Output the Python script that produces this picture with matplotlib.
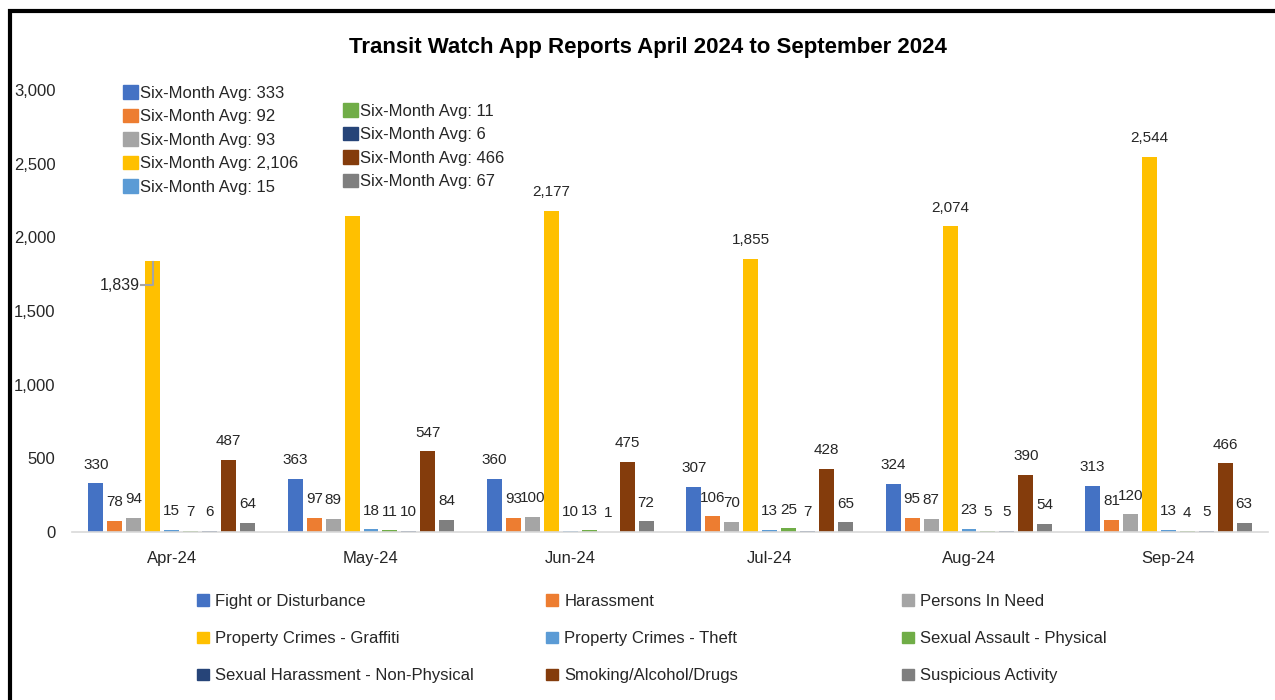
import matplotlib
matplotlib.use("Agg")
import matplotlib.pyplot as plt
from matplotlib.patches import Patch, Rectangle
import numpy as np

plt.rcParams['font.family'] = ['Liberation Sans Narrow', 'Liberation Sans', 'DejaVu Sans']

months = ["Apr-24", "May-24", "Jun-24", "Jul-24", "Aug-24", "Sep-24"]
series = ["Fight or Disturbance", "Harassment", "Persons In Need",
          "Property Crimes - Graffiti", "Property Crimes - Theft",
          "Sexual Assault - Physical", "Sexual Harassment - Non-Physical",
          "Smoking/Alcohol/Drugs", "Suspicious Activity"]
colors = ["#4472C4", "#ED7D31", "#A5A5A5", "#FFC000", "#5B9BD5",
          "#70AD47", "#264478", "#843C0C", "#7F7F7F"]

fight = [330, 363, 360, 307, 324, 313]
harassment = [78, 97, 93, 106, 95, 81]
persons = [94, 89, 100, 70, 87, 120]
graffiti = [1839, 2147, 2177, 1855, 2074, 2544]
theft = [15, 18, 10, 13, 23, 13]
sex_assault = [7, 11, 13, 25, 5, 4]
sex_harass = [6, 10, 1, 7, 5, 5]
smoking = [487, 547, 475, 428, 390, 466]
suspicious = [64, 84, 72, 65, 54, 63]

data = [fight, harassment, persons, graffiti, theft,
        sex_assault, sex_harass, smoking, suspicious]

fig = plt.figure(figsize=(12.75, 7), dpi=100)
ax = fig.add_axes([72/1275, 1-532/700, (1268-72)/1275, (532-90)/700])

x = np.arange(len(months))
step = 0.095
width = 0.075
txt = "#262626"
for i, vals in enumerate(data):
    xs = x + (i - 4) * step
    ax.bar(xs, vals, width, color=colors[i], zorder=2)
    for j, v in enumerate(vals):
        if i == 3 and j == 0:
            # label pulled to the left with a leader line
            bl = xs[j] - width / 2
            ly = v - 165
            ax.text(bl - 0.03, ly, f"{v:,}", ha="right", va="center",
                    fontsize=11.5, color=txt)
            ax.plot([bl - 0.02, bl + 0.04, bl + 0.04], [ly, ly, v - 5],
                    color="#A5A5A5", lw=1.5, zorder=3)
            continue
        if i == 3 and j == 1:
            continue  # hidden behind the average box
        ax.annotate(f"{v:,}", (xs[j], v), xytext=(0, 8.5), textcoords="offset points",
                    ha="center", va="bottom", fontsize=11, color=txt)

ax.set_xlim(-0.5, len(months) - 0.5)
ax.set_ylim(0, 3000)
ax.set_yticks(range(0, 3001, 500))
ax.set_yticklabels([f"{t:,}" for t in range(0, 3001, 500)])
ax.set_xticks(x)
ax.set_xticklabels(months)
ax.tick_params(axis="both", length=0, labelsize=12, colors=txt)
ax.tick_params(axis="y", pad=12)
ax.tick_params(axis="x", pad=14)
for s in ["top", "right", "left"]:
    ax.spines[s].set_visible(False)
ax.spines["bottom"].set_color("#D9D9D9")
ax.spines["bottom"].set_linewidth(1.2)

# six-month averages
avgs = [f"Six-Month Avg: {round(np.mean(v)):,}" for v in data]
h_left = [Patch(color=colors[i]) for i in range(5)]
h_right = [Patch(color=colors[i]) for i in range(5, 9)]
kw = dict(fontsize=12, frameon=False, handlelength=0.9, handleheight=0.9,
          handletextpad=0.15, labelspacing=0.47, borderpad=0, borderaxespad=0,
          labelcolor=txt)
leg1 = fig.legend(h_left, avgs[:5], loc="upper left",
                  bbox_to_anchor=(123/1275, 1-85/700), **kw)
leg2 = fig.legend(h_right, avgs[5:], loc="upper left",
                  bbox_to_anchor=(343/1275, 1-103/700), **kw)

# bottom legend, three columns
kw2 = dict(fontsize=12, frameon=False, handlelength=0.7, handleheight=0.7,
           handletextpad=0.4, labelspacing=1.33, borderpad=0, borderaxespad=0,
           labelcolor=txt)
for c, xp in enumerate([197, 546, 902]):
    idx = [c, c + 3, c + 6]
    fig.legend([Patch(color=colors[k]) for k in idx], [series[k] for k in idx],
               loc="upper left", bbox_to_anchor=(xp/1275, 1-594/700), **kw2)

fig.text(648/1275, 1-47/700, "Transit Watch App Reports April 2024 to September 2024",
         ha="center", va="center", fontsize=16, fontweight="bold", color="black")

fig.patches.append(Rectangle((10/1275, -0.1), 1.2, 1-11/700 + 0.1,
                             transform=fig.transFigure, fill=False,
                             edgecolor="black", lw=3, figure=fig))

fig.savefig("out.png", dpi=100, facecolor="white")
